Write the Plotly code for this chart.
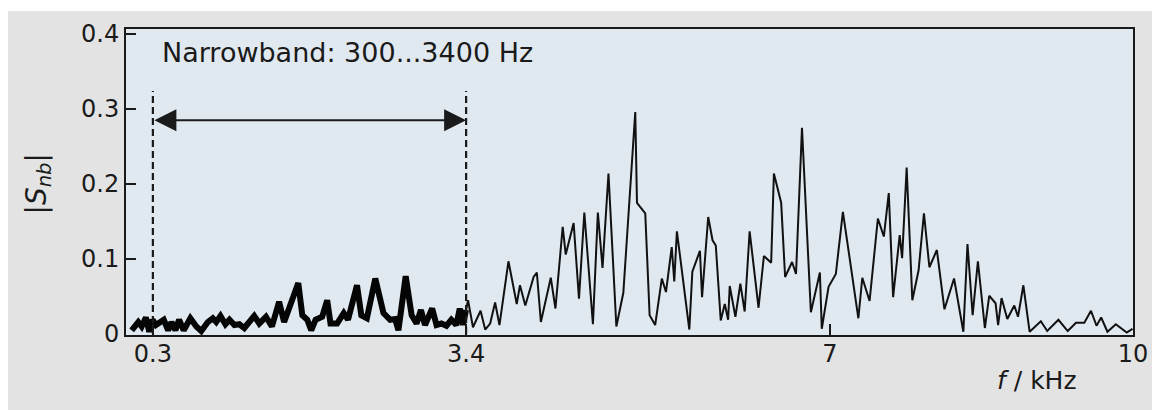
import plotly.graph_objects as go

# Narrowband (thick) part of the spectrum, f in kHz
f_nb = [0.090, 0.155, 0.189, 0.231, 0.264, 0.297, 0.330, 0.369, 0.408, 0.451,
        0.484, 0.523, 0.559, 0.605, 0.671, 0.730, 0.779, 0.844, 0.893, 0.927,
        0.969, 1.018, 1.058, 1.107, 1.156, 1.205, 1.254, 1.303, 1.353, 1.419,
        1.478, 1.549, 1.599, 1.739, 1.779, 1.828, 1.867, 1.910, 1.975, 2.025,
        2.058, 2.123, 2.189, 2.231, 2.320, 2.363, 2.418, 2.501, 2.582, 2.648,
        2.697, 2.730, 2.802, 2.861, 2.910, 2.953, 2.993, 3.064, 3.107, 3.156,
        3.205, 3.254, 3.303, 3.337, 3.369, 3.399]
s_nb = [0.005, 0.016, 0.010, 0.022, 0.003, 0.019, 0.012, 0.016, 0.019, 0.005,
        0.016, 0.005, 0.019, 0.005, 0.021, 0.010, 0.004, 0.016, 0.021, 0.016,
        0.024, 0.013, 0.019, 0.012, 0.013, 0.008, 0.016, 0.024, 0.014, 0.023,
        0.010, 0.043, 0.016, 0.068, 0.025, 0.019, 0.005, 0.019, 0.023, 0.045,
        0.014, 0.014, 0.028, 0.019, 0.065, 0.025, 0.021, 0.074, 0.028, 0.019,
        0.020, 0.005, 0.077, 0.025, 0.014, 0.032, 0.012, 0.034, 0.012, 0.014,
        0.011, 0.019, 0.012, 0.034, 0.012, 0.032]

# Remaining (thin) part of the spectrum
f_wb = [3.399, 3.419, 3.468, 3.543, 3.589, 3.638, 3.687, 3.730, 3.819, 3.901,
        3.933, 3.986, 4.068, 4.100, 4.140, 4.238, 4.284, 4.356, 4.386, 4.464,
        4.517, 4.570, 4.655, 4.704, 4.750, 4.809, 4.887, 4.956, 5.074, 5.091,
        5.173, 5.216, 5.271, 5.337, 5.378, 5.435, 5.460, 5.486, 5.609, 5.639,
        5.714, 5.735, 5.796, 5.839, 5.871, 5.920, 5.960, 5.993, 6.009, 6.065,
        6.114, 6.157, 6.206, 6.294, 6.347, 6.419, 6.446, 6.518, 6.557, 6.626,
        6.665, 6.724, 6.812, 6.901, 6.920, 6.987, 7.059, 7.129, 7.282, 7.321,
        7.393, 7.475, 7.534, 7.583, 7.626, 7.691, 7.715, 7.760, 7.816, 7.878,
        7.931, 7.985, 8.059, 8.134, 8.229, 8.321, 8.362, 8.413, 8.465, 8.534,
        8.577, 8.640, 8.665, 8.699, 8.756, 8.825, 8.862, 8.915, 8.977, 9.088,
        9.151, 9.262, 9.354, 9.436, 9.518, 9.584, 9.639, 9.685, 9.747, 9.830,
        9.938, 9.995]
s_wb = [0.032, 0.045, 0.009, 0.031, 0.006, 0.014, 0.042, 0.012, 0.097, 0.040,
        0.065, 0.038, 0.076, 0.082, 0.016, 0.075, 0.034, 0.143, 0.106, 0.148,
        0.047, 0.162, 0.013, 0.162, 0.088, 0.214, 0.010, 0.055, 0.296, 0.175,
        0.161, 0.025, 0.012, 0.074, 0.056, 0.116, 0.070, 0.137, 0.006, 0.083,
        0.111, 0.049, 0.156, 0.125, 0.118, 0.018, 0.040, 0.019, 0.064, 0.023,
        0.067, 0.030, 0.137, 0.035, 0.104, 0.095, 0.214, 0.175, 0.076, 0.096,
        0.080, 0.275, 0.029, 0.082, 0.007, 0.063, 0.080, 0.163, 0.021, 0.075,
        0.044, 0.154, 0.130, 0.188, 0.049, 0.132, 0.101, 0.222, 0.045, 0.085,
        0.161, 0.089, 0.112, 0.033, 0.074, 0.003, 0.120, 0.025, 0.097, 0.008,
        0.051, 0.041, 0.012, 0.048, 0.020, 0.038, 0.023, 0.065, 0.003, 0.017,
        0.004, 0.019, 0.004, 0.015, 0.015, 0.031, 0.011, 0.022, 0.003, 0.013,
        0.002, 0.007]

x_ticks = [0.3, 3.4, 7, 10]
x_tick_labels = ["0.3", "3.4", "7", "10"]
y_ticks = [0, 0.1, 0.2, 0.3, 0.4]
y_tick_labels = ["0", "0.1", "0.2", "0.3", "0.4"]
band_edges = [0.3, 3.4]
band_label = "Narrowband: 300...3400 Hz"

FONT = "DejaVu Sans"
INK = "#1a1a1a"
OFF = 8                      # page body margin
W, H = 1160 - OFF, 410 - OFF
ML, MR, MT, MB = 118, 21, 21, 75
PW, PH = W - ML - MR, H - MT - MB

def px(xp):
    """window x pixel -> paper x"""
    return (xp - OFF - ML) / PW

def py(yp):
    """window y pixel -> paper y"""
    return (H - MB - (yp - OFF)) / PH

fig = go.Figure()
fig.add_trace(go.Scatter(x=f_wb, y=s_wb, mode="lines",
                         line=dict(color="#111111", width=2), showlegend=False))
fig.add_trace(go.Scatter(x=f_nb, y=s_nb, mode="lines",
                         line=dict(color="#050505", width=6), showlegend=False))

# dashed band edges
for xe in band_edges:
    fig.add_shape(type="line", x0=xe, x1=xe, y0=0, y1=0.324, xref="x", yref="y",
                  line=dict(color=INK, width=2.2, dash="7px,4px"))

# double-headed arrow
fig.add_annotation(x=band_edges[1], y=0.285, ax=band_edges[0], ay=0.285,
                   xref="x", yref="y", axref="x", ayref="y", text="",
                   showarrow=True, arrowhead=2, arrowside="end+start",
                   arrowwidth=2, arrowsize=2.2, arrowcolor=INK, standoff=0,
                   startstandoff=0)

fig.add_annotation(x=0.369, y=0.376, xref="x", yref="y", text=band_label,
                   showarrow=False, xanchor="left", yanchor="middle",
                   font=dict(family=FONT, size=27, color=INK))

# axis titles
fig.add_annotation(x=px(37), y=py(184), xref="paper", yref="paper",
                   text="|<i>S</i><sub><i>nb</i></sub>|", textangle=-90,
                   showarrow=False, xanchor="center", yanchor="middle",
                   font=dict(family=FONT, size=28, color=INK))
fig.add_annotation(x=px(1042), y=py(380), xref="paper", yref="paper",
                   text="<i>f</i> / kHz", showarrow=False,
                   xanchor="center", yanchor="middle",
                   font=dict(family=FONT, size=25, color=INK))

# white strip above the grey panel
fig.add_shape(type="rect", xref="paper", yref="paper",
              x0=px(-20), x1=px(1180), y0=py(11), y1=py(-20),
              line=dict(width=0), fillcolor="white", layer="above")

fig.update_layout(
    width=W, height=H,
    margin=dict(l=ML, r=MR, t=MT, b=MB),
    paper_bgcolor="#e3e3e3",
    plot_bgcolor="#e1e9f0",
    font=dict(family=FONT, size=24, color=INK),
    showlegend=False,
)
fig.update_xaxes(range=[0.034, 10.0], tickvals=x_ticks, ticktext=x_tick_labels,
                 ticks="inside", ticklen=11, tickwidth=2, tickcolor=INK,
                 ticklabelstandoff=-4,
                 showline=True, mirror=True, linewidth=2, linecolor=INK,
                 showgrid=False, zeroline=False,
                 tickfont=dict(family=FONT, size=24, color=INK))
fig.update_yaxes(range=[-0.0013, 0.4067], tickvals=y_ticks, ticktext=y_tick_labels,
                 ticks="inside", ticklen=10, tickwidth=2, tickcolor=INK,
                 showline=True, mirror=True, linewidth=2, linecolor=INK,
                 showgrid=False, zeroline=False,
                 tickfont=dict(family=FONT, size=24, color=INK))

fig.write_html("out.html")
